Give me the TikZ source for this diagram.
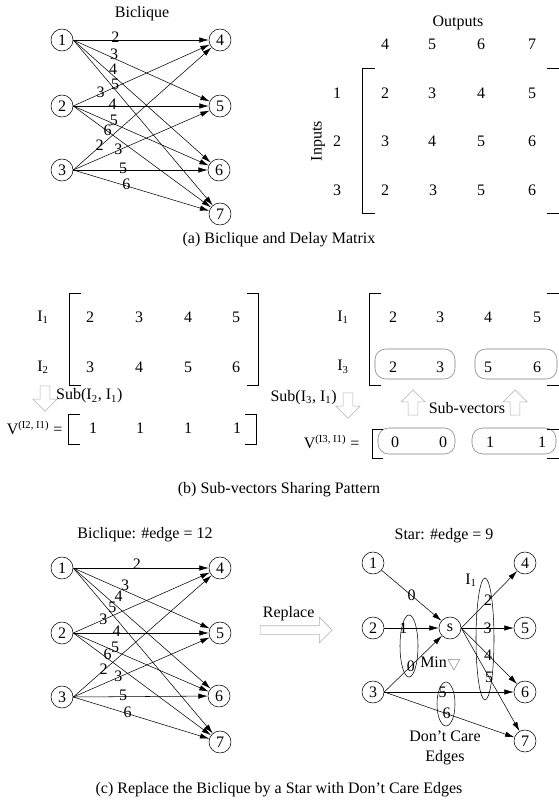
\documentclass[tikz,border=0pt]{standalone}
\usepackage{fontspec}
\setmainfont{Liberation Serif}
\usetikzlibrary{arrows.meta, shapes.arrows, positioning}
\tikzset{
    % Vertex of the bipartite graphs - small circles
    vertex/.style={circle, draw, thin, minimum size=16.5pt, inner sep=0pt},
    % Weighted edge with a narrow filled head
    arc/.style={thin, -{Latex[length=7pt,width=4pt]}},
    % Delay value written on an edge
    delay/.style={inner sep=0pt},
    % Hollow block arrows (gray outline)
    hollow/.style={single arrow, draw=gray!60, fill=white, thin, single arrow head extend=5.25pt, inner sep=3.5pt, minimum height=19pt},
    % Matrix bracket
    bracket/.style={thin},
    % Rounded frame around a sub-vector
    subvec/.style={draw=gray, thin, rounded corners=8pt},
    % Ellipse grouping delays
    dgroup/.style={draw, thin}
}

\begin{document}
\begin{tikzpicture}[x=0.75pt, y=-0.75pt, every node/.style={font=\fontsize{12}{15}\selectfont}]
    \useasboundingbox (0,0) rectangle (558,804);

    % --- (a) Biclique ---
    \node (atitle) at (142,14) {Biclique};
    \node[vertex] (a1) at (62,40) {1};
    \node[vertex] (a2) at (62,106) {2};
    \node[vertex] (a3) at (62,170) {3};
    \node[vertex] (a4) at (220,40) {4};
    \node[vertex] (a5) at (220,106) {5};
    \node[vertex] (a6) at (219,170) {6};
    \node[vertex] (a7) at (220,214) {7};

    \draw[arc] (a1.east) -- (a4) node[delay, pos=0.31, yshift=2pt] {2};
    \draw[arc] (a1.east) -- (a5) node[delay, pos=0.30, yshift=3pt] {3};
    \draw[arc] (a1.east) -- (a6) node[delay, pos=0.29, yshift=5pt] {4};
    \draw[arc] (a1.east) -- (a7) node[delay, pos=0.30, yshift=4pt] {5};
    \draw[arc] (a2.east) -- (a4) node[delay, pos=0.20, yshift=1pt] {3};
    \draw[arc] (a2.east) -- (a5) node[delay, pos=0.29, yshift=1pt] {4};
    \draw[arc] (a2.east) -- (a6) node[delay, pos=0.30, yshift=3pt] {5};
    \draw[arc] (a2.east) -- (a7) node[delay, pos=0.25, yshift=1pt] {6};
    \draw[arc] (a3.east) -- (a4) node[delay, pos=0.19, yshift=1pt] {2};
    \draw[arc] (a3.east) -- (a5) node[delay, pos=0.33, yshift=1pt] {3};
    \draw[arc] (a3.east) -- (a6) node[delay, pos=0.37, yshift=1pt] {5};
    \draw[arc] (a3.east) -- (a7) node[delay, pos=0.39, yshift=1pt] {6};

    % --- (a) Delay matrix ---
    \node (outputs) at (458,23) {Outputs};
    \node (o4) at (385,44) {4}; \node (o5) at (432,44) {5};
    \node (o6) at (481,44) {6}; \node (o7) at (532,44) {7};
    \node[rotate=90] (inputs) at (318,141) {Inputs};
    \node (i1) at (337,93) {1}; \node (i2) at (337,141) {2}; \node (i3) at (337,190) {3};
    \node at (385,93) {2}; \node at (432,93) {3}; \node at (481,93) {4}; \node at (532,93) {5};
    \node at (385,141) {3}; \node at (432,141) {4}; \node at (481,141) {5}; \node at (532,141) {6};
    \node at (385,190) {2}; \node at (433,190) {3}; \node at (481,190) {5}; \node at (532,190) {6};
    \draw[bracket] (375,68) -- (362,68) -- (362,213) -- (375,213);
    \draw[bracket] (547,68) -- (560,68) -- (560,213) -- (547,213);

    \node (capa) at (279,240) {(a) Biclique and Delay Matrix};

    % --- (b) Left: rows I1, I2 ---
    \node (bi1) at (43,317) {I\textsubscript{1}};
    \node (bi2) at (43,367) {I\textsubscript{2}};
    \node at (90,317) {2}; \node at (139,317) {3}; \node at (188,317) {4}; \node at (236,317) {5};
    \node at (90,367) {3}; \node at (139,367) {4}; \node at (188,367) {5}; \node at (236,367) {6};
    \draw[bracket] (81,293) -- (69,293) -- (69,385) -- (81,385);
    \draw[bracket] (247,293) -- (258,293) -- (258,385) -- (247,385);

    \node[hollow, shape border rotate=270] (down1) at (45,396) {};
    \node[right=1pt of down1] (sub1) {Sub(I\textsubscript{2}, I\textsubscript{1})};

    \node[anchor=east] (v1) at (67,428) {V\textsuperscript{(I2, I1)} =};
    \node at (93,428) {1}; \node at (140,428) {1}; \node at (188,428) {1}; \node at (237,428) {1};
    \draw[bracket] (80,414) -- (68,414) -- (68,444) -- (80,444);
    \draw[bracket] (245,414) -- (256,414) -- (256,444) -- (245,444);

    % --- (b) Right: rows I1, I3 ---
    \node (bj1) at (343,317) {I\textsubscript{1}};
    \node (bj3) at (343,367) {I\textsubscript{3}};
    \node at (393,317) {2}; \node at (440,317) {3}; \node at (488,317) {4}; \node at (537,317) {5};
    \node at (393,367) {2}; \node at (440,367) {3}; \node at (488,367) {5}; \node at (537,367) {6};
    \draw[subvec] (375,349) rectangle (455,379);
    \draw[subvec] (475,349) rectangle (557,379);
    \draw[bracket] (381,293) -- (369,293) -- (369,385) -- (381,385);
    \draw[bracket] (547,293) -- (560,293) -- (560,385) -- (547,385);

    \node[hollow, shape border rotate=270] (down2) at (348,403) {};
    \node[left=1pt of down2, yshift=4pt] (sub2) {Sub(I\textsubscript{3}, I\textsubscript{1})};
    \node[hollow, shape border rotate=90] (up1) at (413,405) {};
    \node[hollow, shape border rotate=90] (up2) at (515,405) {};
    \node (subvecs) at (467,408) {Sub-vectors};

    \node[anchor=east] (v2) at (364,442) {V\textsuperscript{(I3, I1)} =};
    \node at (395,442) {0}; \node at (443,442) {0}; \node at (490,442) {1}; \node at (542,442) {1};
    \draw[subvec] (378,428) rectangle (455,454);
    \draw[subvec] (472,428) rectangle (556,454);
    \draw[bracket] (383,429) -- (372,429) -- (372,458) -- (383,458);
    \draw[bracket] (547,429) -- (560,429) -- (560,458) -- (547,458);

    \node (capb) at (279,490) {(b) Sub-vectors Sharing Pattern};

    % --- (c) Left: biclique ---
    \node (ctitle) at (145,535) {Biclique: \#edge = 12};
    \node[vertex] (c1) at (62,568) {1};
    \node[vertex] (c2) at (62,633) {2};
    \node[vertex] (c3) at (62,697) {3};
    \node[vertex] (c4) at (220,568) {4};
    \node[vertex] (c5) at (220,633) {5};
    \node[vertex] (c6) at (219,696) {6};
    \node[vertex] (c7) at (220,742) {7};

    \draw[arc] (c1.east) -- (c4) node[delay, pos=0.47, yshift=3pt] {2};
    \draw[arc] (c1.east) -- (c5) node[delay, pos=0.38, yshift=4pt] {3};
    \draw[arc] (c1.east) -- (c6) node[delay, pos=0.33, yshift=9pt] {4};
    \draw[arc] (c1.east) -- (c7) node[delay, pos=0.28, yshift=5pt] {5};
    \draw[arc] (c2.east) -- (c4) node[delay, pos=0.22, yshift=0pt] {3};
    \draw[arc] (c2.east) -- (c5) node[delay, pos=0.32, yshift=1pt] {4};
    \draw[arc] (c2.east) -- (c6) node[delay, pos=0.31, yshift=3pt] {5};
    \draw[arc] (c2.east) -- (c7) node[delay, pos=0.25, yshift=3pt] {6};
    \draw[arc] (c3.east) -- (c4) node[delay, pos=0.22, yshift=1pt] {2};
    \draw[arc] (c3.east) -- (c5) node[delay, pos=0.33, yshift=1pt] {3};
    \draw[arc] (c3.east) -- (c6) node[delay, pos=0.37, yshift=1pt] {5};
    \draw[arc] (c3.east) -- (c7) node[delay, pos=0.40, yshift=1pt] {6};

    % --- Replace arrow ---
    \node[hollow, minimum height=54pt, inner sep=3pt, single arrow head extend=6.4pt] (repl) at (294,630) {};
    \node[above=0pt of repl, xshift=-4pt] (repltxt) {Replace};

    % --- (c) Right: star ---
    \node (stitle) at (444,536) {Star: \#edge = 9};
    \node[vertex] (s1) at (373,563) {1};
    \node[vertex] (s2) at (373,628) {2};
    \node[vertex] (s3) at (373,692) {3};
    \node[vertex] (hub) at (450,628) {s};
    \node[vertex] (s4) at (525,563) {4};
    \node[vertex] (s5) at (525,628) {5};
    \node[vertex] (s6) at (525,692) {6};
    \node[vertex] (s7) at (525,741) {7};

    \draw[arc] (s1) -- (hub) node[delay, pos=0.5] {0};
    \draw[arc] (s2) -- (hub) node[delay, pos=0.35] {1};
    \draw[arc] (s3.east) -- (hub) node[delay, pos=0.46] {0};
    \draw[arc] (s3.east) -- (s6) node[delay, pos=0.45] {5};
    \draw[arc] (s3.east) -- (s7) node[delay, pos=0.48] {6};
    \draw[arc] (hub.east) -- (s4) node[delay, pos=0.48] {2};
    \draw[arc] (hub.east) -- (s5) node[delay, pos=0.5] {3};
    \draw[arc] (hub.east) -- (s6) node[delay, pos=0.48] {4};
    \draw[arc] (hub.east) -- (s7) node[delay, pos=0.48] {5};

    % --- Delay groups ---
    \draw[dgroup] (485,639) ellipse [x radius=6.75pt, y radius=45.75pt];
    \draw[dgroup] (409,646) ellipse [x radius=6.75pt, y radius=23.25pt];
    \draw[dgroup] (446,704) ellipse [x radius=6.75pt, y radius=16.5pt];
    \node (ilabel) at (471,580) {I\textsubscript{1}};
    \node[anchor=west, inner sep=0pt] (minlabel) at (420,663) {Min{\color{gray}$\bigtriangledown$}};
    \node[align=center] (dclabel) at (445,748) {Don't Care\\Edges};

    \node (capc) at (279,790) {(c) Replace the Biclique by a Star with Don't Care Edges};

\end{tikzpicture}
\end{document}
